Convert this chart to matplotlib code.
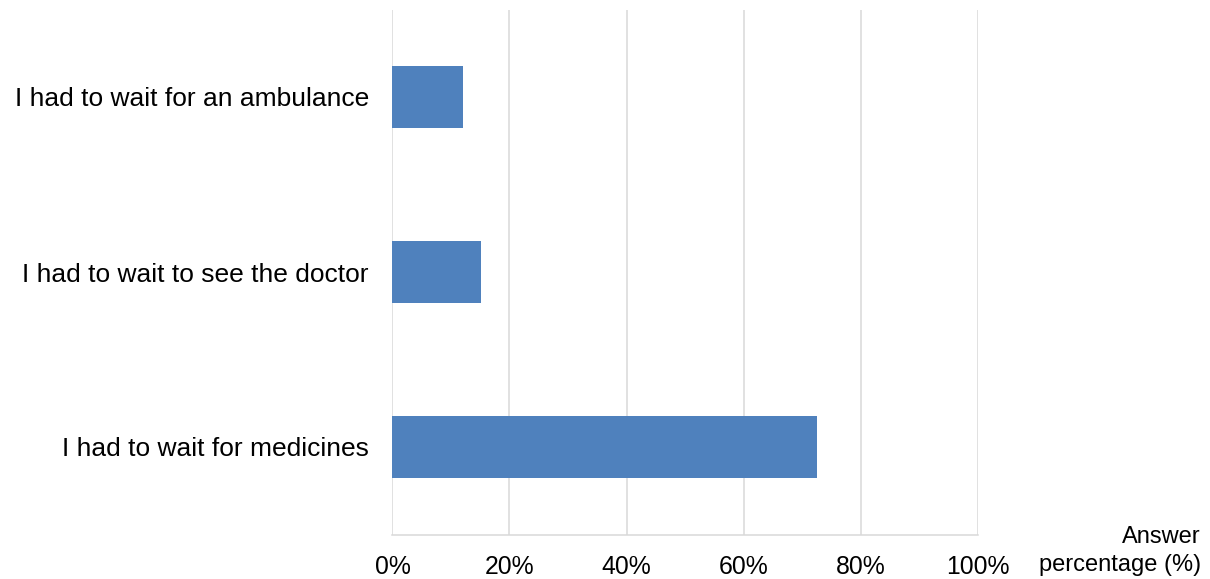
import matplotlib
matplotlib.use("Agg")
import matplotlib.pyplot as plt
from matplotlib.ticker import FuncFormatter

plt.rcParams["font.family"] = ["Liberation Sans", "DejaVu Sans"]

categories = [
    "I had to wait for medicines",
    "I had to wait to see the doctor",
    "I had to wait for an ambulance",
]
values = [72.6, 15.2, 12.1]
x_ticks = [0, 20, 40, 60, 80, 100]

BAR_COLOR = "#4F81BD"
GRID_COLOR = "#D9D9D9"

fig = plt.figure(figsize=(12.10, 5.79), dpi=100)
ax = fig.add_axes([392.5 / 1210, 1 - 534.5 / 579, 585 / 1210, 525 / 579])

ax.barh(range(len(categories)), values, height=0.35, color=BAR_COLOR,
        zorder=3)

ax.set_xlim(0, 100)
ax.set_ylim(-0.5, len(categories) - 0.5)
ax.set_xticks(x_ticks)
ax.xaxis.set_major_formatter(FuncFormatter(lambda v, _: f"{v:.0f}%"))
ax.set_yticks(range(len(categories)))
ax.set_yticklabels(categories)

ax.grid(axis="x", color=GRID_COLOR, linewidth=1.1, zorder=0)
ax.grid(axis="y", visible=False)
for side in ("top", "right", "left"):
    ax.spines[side].set_visible(False)
ax.spines["bottom"].set_color(GRID_COLOR)
ax.spines["bottom"].set_linewidth(1.1)

ax.tick_params(axis="x", length=0, pad=15, labelsize=17.8, colors="#000000")
ax.tick_params(axis="y", length=0, pad=17, labelsize=19, colors="#000000")

fig.text(1201 / 1210, 3 / 579, "Answer\npercentage (%)", ha="right",
         va="bottom", fontsize=17, linespacing=1.35)

fig.savefig("out.png", dpi=100, facecolor="white")
